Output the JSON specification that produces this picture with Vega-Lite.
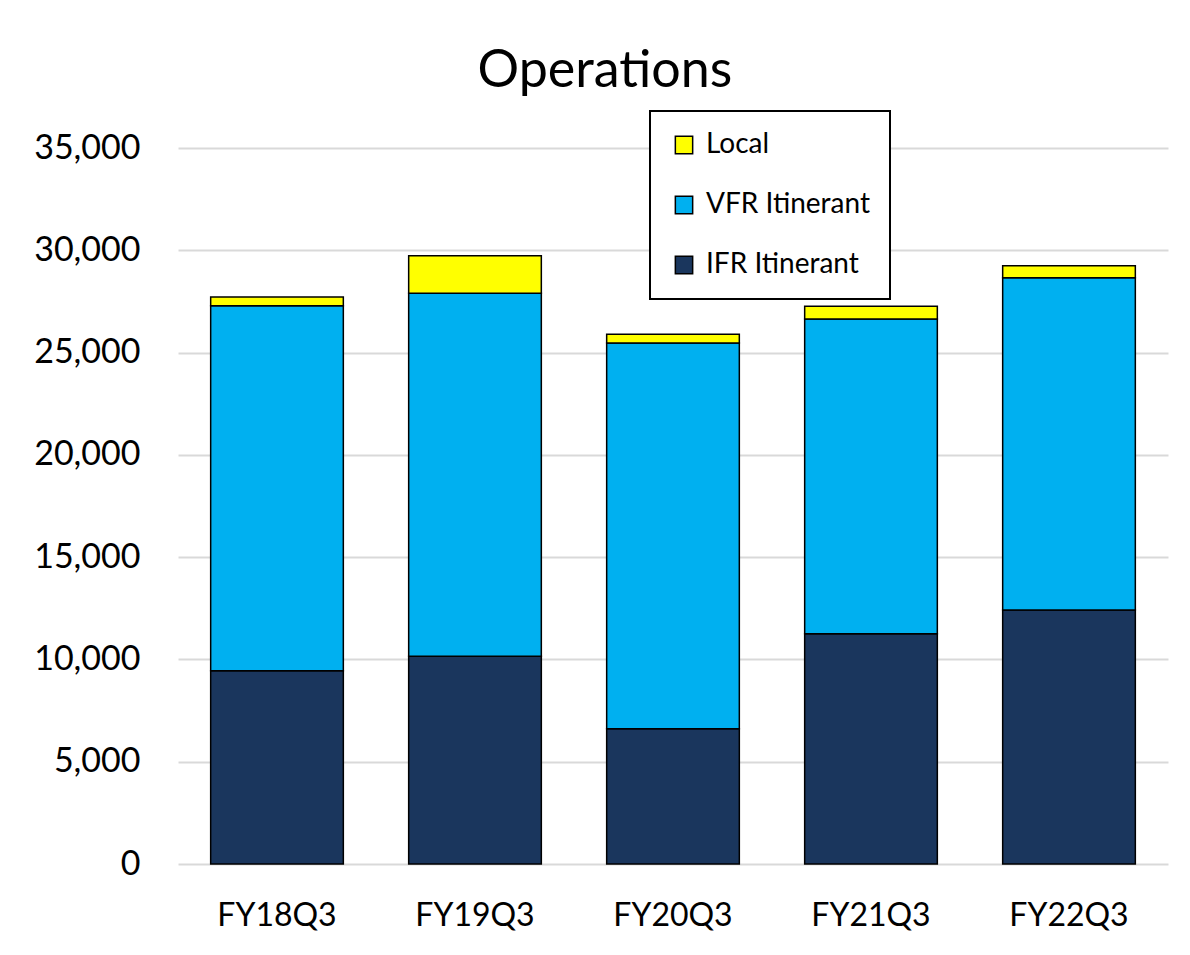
{
  "$schema": "https://vega.github.io/schema/vega-lite/v6.json",
  "autosize": {"type": "none"},
  "width": 990,
  "height": 716,
  "padding": {"left": 178, "top": 148, "right": 22, "bottom": 91},
  "background": "white",
  "title": {
    "text": "Operations",
    "font": "Lato",
    "fontSize": 52,
    "fontWeight": "normal",
    "color": "black",
    "anchor": "middle",
    "dx": -68,
    "offset": 12
  },
  "data": {
    "values": [
      {"quarter": "FY18Q3", "type": "IFR Itinerant", "rank": 1, "ops": 9450},
      {"quarter": "FY18Q3", "type": "VFR Itinerant", "rank": 2, "ops": 17840},
      {"quarter": "FY18Q3", "type": "Local", "rank": 3, "ops": 430},
      {"quarter": "FY19Q3", "type": "IFR Itinerant", "rank": 1, "ops": 10150},
      {"quarter": "FY19Q3", "type": "VFR Itinerant", "rank": 2, "ops": 17750},
      {"quarter": "FY19Q3", "type": "Local", "rank": 3, "ops": 1835},
      {"quarter": "FY20Q3", "type": "IFR Itinerant", "rank": 1, "ops": 6615},
      {"quarter": "FY20Q3", "type": "VFR Itinerant", "rank": 2, "ops": 18855},
      {"quarter": "FY20Q3", "type": "Local", "rank": 3, "ops": 425},
      {"quarter": "FY21Q3", "type": "IFR Itinerant", "rank": 1, "ops": 11260},
      {"quarter": "FY21Q3", "type": "VFR Itinerant", "rank": 2, "ops": 15380},
      {"quarter": "FY21Q3", "type": "Local", "rank": 3, "ops": 620},
      {"quarter": "FY22Q3", "type": "IFR Itinerant", "rank": 1, "ops": 12415},
      {"quarter": "FY22Q3", "type": "VFR Itinerant", "rank": 2, "ops": 16245},
      {"quarter": "FY22Q3", "type": "Local", "rank": 3, "ops": 585}
    ]
  },
  "mark": {"type": "bar", "stroke": "black", "strokeWidth": 1.5},
  "encoding": {
    "x": {
      "field": "quarter",
      "type": "nominal",
      "sort": null,
      "scale": {"paddingInner": 0.33, "paddingOuter": 0.165},
      "axis": {
        "title": null,
        "labelAngle": 0,
        "labelFont": "Lato",
        "labelFontSize": 32,
        "labelColor": "black",
        "labelPadding": 36,
        "ticks": false,
        "domain": false
      }
    },
    "y": {
      "field": "ops",
      "type": "quantitative",
      "aggregate": "sum",
      "stack": "zero",
      "scale": {"domain": [0, 35000], "nice": false},
      "axis": {
        "title": null,
        "values": [0, 5000, 10000, 15000, 20000, 25000, 30000, 35000],
        "format": ",.0f",
        "labelFont": "Lato",
        "labelFontSize": 34,
        "labelColor": "black",
        "labelPadding": 38,
        "ticks": false,
        "domain": false,
        "grid": true,
        "gridColor": "#d9d9d9",
        "gridWidth": 2
      }
    },
    "color": {
      "field": "type",
      "type": "nominal",
      "scale": {
        "domain": ["Local", "VFR Itinerant", "IFR Itinerant"],
        "range": ["#ffff00", "#00b0f0", "#1a365d"]
      },
      "legend": {
        "title": null,
        "orient": "none",
        "legendX": 472,
        "legendY": -37,
        "labelFont": "Lato",
        "labelFontSize": 28,
        "labelColor": "black",
        "labelLimit": 400,
        "symbolType": "square",
        "symbolSize": 300,
        "symbolStrokeColor": "black",
        "symbolStrokeWidth": 1.5,
        "symbolOpacity": 1,
        "rowPadding": 32,
        "labelOffset": 8,
        "padding": 20,
        "strokeColor": "black",
        "fillColor": "white",
        "encode": {"legend": {"update": {"strokeWidth": {"value": 2}}}}
      }
    },
    "order": {"field": "rank", "type": "quantitative"}
  },
  "config": {"view": {"stroke": null}}
}
